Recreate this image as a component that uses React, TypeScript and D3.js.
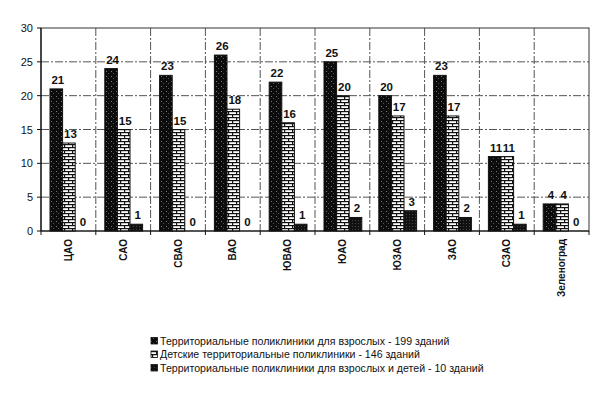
import React from "react";
import * as d3 from "d3";

const categories = ["ЦАО", "САО", "СВАО", "ВАО", "ЮВАО", "ЮАО", "ЮЗАО", "ЗАО", "СЗАО", "Зеленоград"];
const adults = [21, 24, 23, 26, 22, 25, 20, 23, 11, 4];
const children = [13, 15, 15, 18, 16, 20, 17, 17, 11, 4];
const mixed = [0, 1, 0, 0, 1, 2, 3, 2, 1, 0];
const yTicks = [0, 5, 10, 15, 20, 25, 30];
const legendLabels = [
  "Территориальные поликлиники для взрослых - 199 зданий",
  "Детские территориальные поликлиники - 146 зданий",
  "Территориальные поликлиники для взрослых и детей - 10 зданий",
];

const W = 606;
const H = 394;
const left = 41;
const right = 589;
const top = 28;
const bottom = 231;

export default function App() {
  const x = d3.scaleBand<string>().domain(categories).range([left, right]).paddingInner(0).paddingOuter(0);
  const y = d3.scaleLinear().domain([0, 30]).range([bottom, top]);
  const series = [adults, children, mixed];
  const fills = ["url(#p1)", "url(#p2)", "url(#p3)"];
  const barW = 12.6;
  const groupW = barW * 3;
  const font = "Arial, 'Liberation Sans', sans-serif";

  return (
    <svg width={W} height={H} style={{ position: "absolute", left: 0, top: 0, background: "#fff" }}>
      <defs>
        <pattern id="p1" width="5" height="5" patternUnits="userSpaceOnUse">
          <rect width="5" height="5" fill="#0c0c0c" />
          <rect x="1" y="1" width="1" height="1" fill="#777" />
          <rect x="3" y="3" width="1" height="1" fill="#555" />
        </pattern>
        <pattern id="p2" width="8" height="6" patternUnits="userSpaceOnUse">
          <rect width="8" height="6" fill="#fff" />
          <rect x="0" y="0" width="8" height="1.2" fill="#111" />
          <rect x="0" y="3" width="8" height="1.2" fill="#111" />
          <rect x="0" y="0" width="1.2" height="3" fill="#111" />
          <rect x="4" y="3" width="1.2" height="3" fill="#111" />
        </pattern>
        <pattern id="p3" width="3" height="3" patternUnits="userSpaceOnUse">
          <rect width="3" height="3" fill="#111" />
          <rect x="1" y="1" width="1" height="1" fill="#444" />
        </pattern>
      </defs>

      {yTicks.filter((t) => t > 0 && t < 30).map((t) => (
        <line key={"h" + t} x1={left} x2={right} y1={y(t)} y2={y(t)} stroke="#555" strokeWidth={1} strokeDasharray="8,2,2,2" />
      ))}
      {categories.slice(1).map((c) => (
        <line key={"v" + c} x1={x(c)!} x2={x(c)!} y1={top} y2={bottom} stroke="#555" strokeWidth={1} strokeDasharray="8,2,2,2" />
      ))}
      <rect x={left} y={top} width={right - left} height={bottom - top} fill="none" stroke="#333" strokeWidth={1} />

      {categories.map((c, i) => {
        const cx = x(c)! + x.bandwidth() / 2;
        const gx = cx - groupW / 2 + 0.5;
        return (
          <g key={c}>
            {series.map((s, k) => {
              const v = s[i];
              const bx = gx + k * barW;
              return (
                <g key={k}>
                  {v > 0 && (
                    <rect x={bx} y={y(v)} width={barW} height={y(0) - y(v)} fill={fills[k]} stroke="#111" strokeWidth={1} />
                  )}
                  <text x={bx + barW / 2 + 1.5} y={y(v) - 5} textAnchor="middle" fontFamily={font} fontWeight="bold" fontSize={11.5} fill="#111">
                    {v}
                  </text>
                </g>
              );
            })}
          </g>
        );
      })}

      <line x1={left} x2={left} y1={top} y2={bottom} stroke="#111" strokeWidth={1.2} />
      <line x1={left} x2={right} y1={bottom} y2={bottom} stroke="#111" strokeWidth={1.2} />
      {yTicks.map((t) => (
        <g key={"yt" + t}>
          <line x1={left - 4} x2={left} y1={y(t)} y2={y(t)} stroke="#111" />
          <text x={left - 8} y={y(t) + 4} textAnchor="end" fontFamily={font} fontSize={11} fill="#111">
            {t}
          </text>
        </g>
      ))}
      {categories.map((c) => (
        <line key={"xt" + c} x1={x(c)!} x2={x(c)!} y1={bottom} y2={bottom + 4} stroke="#111" />
      ))}
      <line x1={right} x2={right} y1={bottom} y2={bottom + 4} stroke="#111" />
      {categories.map((c) => {
        const cx = x(c)! + x.bandwidth() / 2;
        return (
          <text key={"xl" + c} transform={`translate(${cx + 3.5},${bottom + 8}) rotate(-90)`} textAnchor="end" fontFamily={font} fontWeight="bold" fontSize={10} fill="#111">
            {c}
          </text>
        );
      })}

      {legendLabels.map((l, i) => {
        const ly = 341 + i * 13.5;
        return (
          <g key={l}>
            <rect x={151} y={ly - 3.5} width={6.5} height={6.5} fill={fills[i]} stroke="#111" strokeWidth={0.8} />
            <text x={160} y={ly + 3.5} fontFamily={font} fontSize={10.6} fill="#111">
              {l}
            </text>
          </g>
        );
      })}
    </svg>
  );
}
